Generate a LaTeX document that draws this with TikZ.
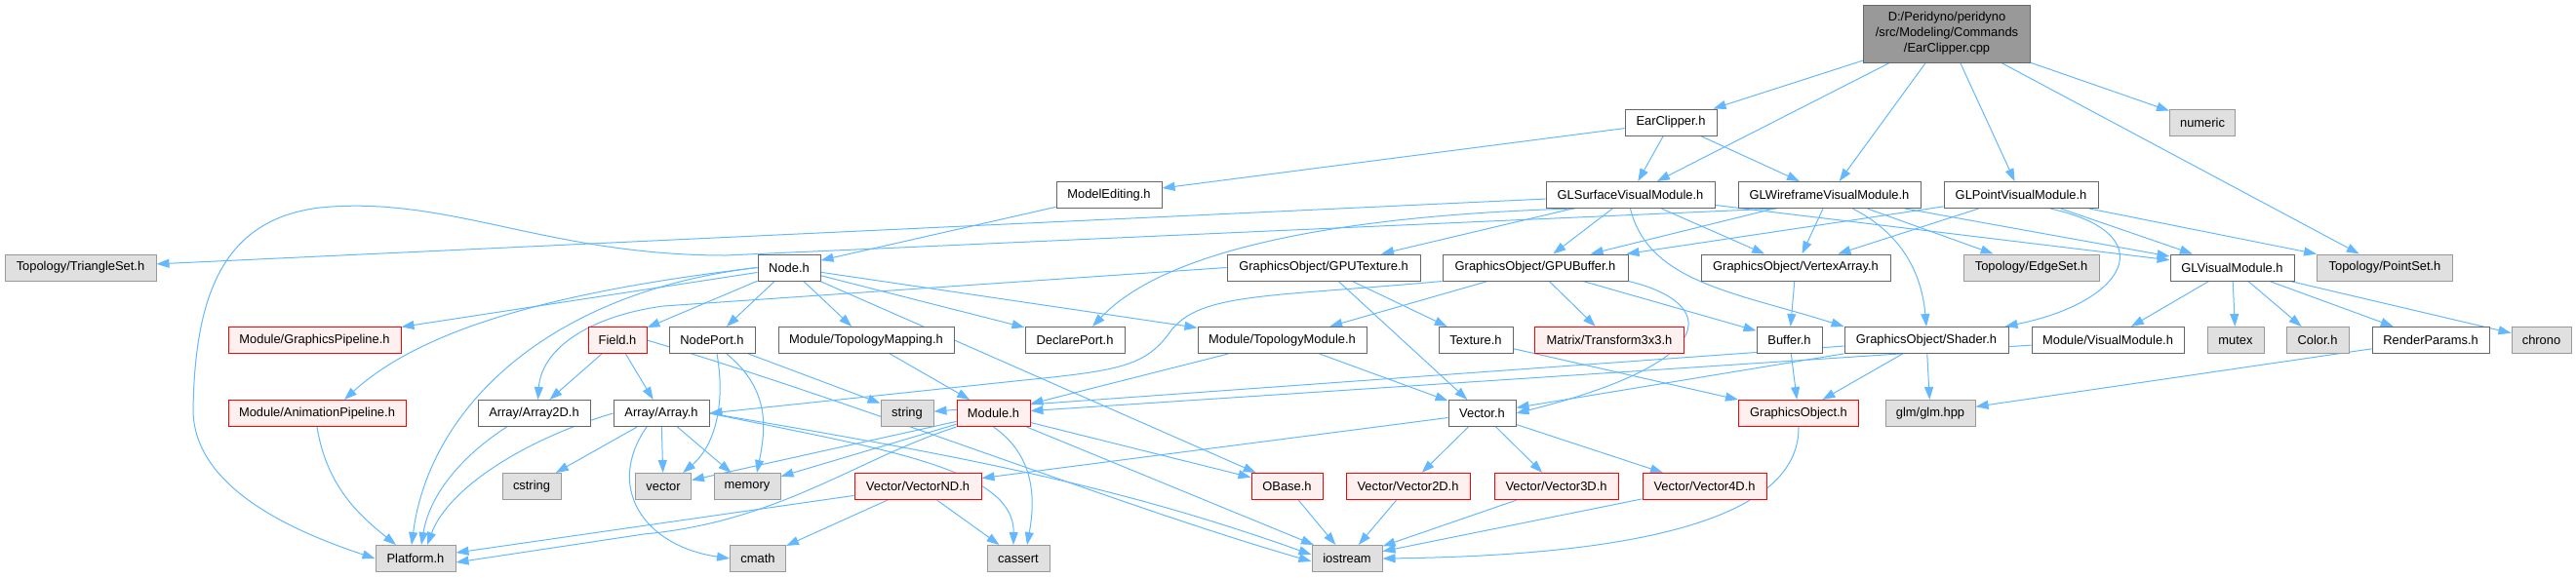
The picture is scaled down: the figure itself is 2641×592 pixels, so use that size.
\documentclass[tikz,border=0pt]{standalone}
\usepackage{fontspec}
\setmainfont{Liberation Sans}
\usepackage{xcolor}
\definecolor{incblue}{HTML}{63B8FF}
\definecolor{hdrline}{HTML}{666666}
\definecolor{sysfill}{HTML}{E0E0E0}
\definecolor{sysline}{HTML}{999999}
\definecolor{partfill}{HTML}{FFF0F0}
\definecolor{srcfill}{HTML}{999999}
\usepackage{tikz}
\usetikzlibrary{arrows.meta,backgrounds}

\begin{document}
\begin{tikzpicture}[x=1pt,y=-1pt,
  hdr/.style={draw=hdrline,fill=white,line width=1pt,minimum height=27pt,inner sep=0pt,
    font=\fontsize{12.9}{16}\selectfont},
  sys/.style={hdr,draw=sysline,fill=sysfill},
  part/.style={hdr,draw=red,fill=partfill},
  src/.style={hdr,fill=srcfill,minimum height=59pt,align=center},
  inc/.style={draw=incblue,line width=1pt,-{Triangle[length=13pt,width=9pt]}}]
\useasboundingbox (0,0) rectangle (2641,592);

\node[src,minimum width=171pt] (earcpp) at (1996,34.5) {D:/Peridyno/peridyno\\/src/Modeling/Commands\\/EarClipper.cpp};

\node[hdr,minimum width=94pt] (earclip) at (1713,125.5) {EarClipper.h};
\node[sys,minimum width=67pt] (numeric) at (2258,125.5) {numeric};

\node[hdr,minimum width=108pt] (modedit) at (1137,200) {ModelEditing.h};
\node[hdr,minimum width=173pt] (glsurf) at (1671.5,200) {GLSurfaceVisualModule.h};
\node[hdr,minimum width=187pt] (glwire) at (1875.5,200) {GLWireframeVisualModule.h};
\node[hdr,minimum width=158pt] (glpoint) at (2072,200) {GLPointVisualModule.h};

\node[sys,minimum width=155pt] (triset) at (82.5,274.5) {Topology/TriangleSet.h};
\node[hdr,minimum width=64pt] (nodeh) at (809,274.5) {Node.h};
\node[hdr,minimum width=198pt] (gputex) at (1357,274.5) {GraphicsObject/GPUTexture.h};
\node[hdr,minimum width=190pt] (gpubuf) at (1574,274.5) {GraphicsObject/GPUBuffer.h};
\node[hdr,minimum width=194pt] (vao) at (1841,274.5) {GraphicsObject/VertexArray.h};
\node[sys,minimum width=139pt] (edgeset) at (2082.5,274.5) {Topology/EdgeSet.h};
\node[hdr,minimum width=127pt] (glvis) at (2288.5,274.5) {GLVisualModule.h};
\node[sys,minimum width=139pt] (ptset) at (2445,274.5) {Topology/PointSet.h};

\node[part,minimum width=177pt] (gpipe) at (322.5,349) {Module/GraphicsPipeline.h};
\node[part,minimum width=60pt] (field) at (633,349) {Field.h};
\node[hdr,minimum width=88pt] (nodeport) at (730,349) {NodePort.h};
\node[hdr,minimum width=180pt] (topomap) at (888,349) {Module/TopologyMapping.h};
\node[hdr,minimum width=102pt] (declport) at (1102,349) {DeclarePort.h};
\node[hdr,minimum width=173pt] (topomod) at (1314.5,349) {Module/TopologyModule.h};
\node[hdr,minimum width=76pt] (texture) at (1513,349) {Texture.h};
\node[part,minimum width=153pt] (trans) at (1650,349) {Matrix/Transform3x3.h};
\node[hdr,minimum width=67pt] (buffer) at (1834.5,349) {Buffer.h};
\node[hdr,minimum width=168pt] (shader) at (1975,349) {GraphicsObject/Shader.h};
\node[hdr,minimum width=156pt] (vismod) at (2161,349) {Module/VisualModule.h};
\node[sys,minimum width=58pt] (mutex) at (2292,349) {mutex};
\node[sys,minimum width=64pt] (colorh) at (2376,349) {Color.h};
\node[hdr,minimum width=120pt] (rparams) at (2492,349) {RenderParams.h};
\node[sys,minimum width=61pt] (chrono) at (2605.5,349) {chrono};

\node[part,minimum width=182pt] (apipe) at (325,424) {Module/AnimationPipeline.h};
\node[hdr,minimum width=115pt] (arr2d) at (547.5,424) {Array/Array2D.h};
\node[hdr,minimum width=98pt] (arr) at (678,424) {Array/Array.h};
\node[sys,minimum width=54pt] (string) at (930,424) {string};
\node[part,minimum width=75pt] (module) at (1018.5,424) {Module.h};
\node[hdr,minimum width=69pt] (vec) at (1519.5,424) {Vector.h};
\node[part,minimum width=123pt] (gobj) at (1844,424) {GraphicsObject.h};
\node[sys,minimum width=92pt] (glm) at (1979,424) {glm/glm.hpp};

\node[sys,minimum width=60pt] (cstring) at (545,499) {cstring};
\node[sys,minimum width=57pt] (vector) at (680,499) {vector};
\node[sys,minimum width=68pt] (memory) at (766,499) {memory};
\node[part,minimum width=130pt] (vecnd) at (941,499) {Vector/VectorND.h};
\node[part,minimum width=73pt] (obase) at (1319.5,499) {OBase.h};
\node[part,minimum width=127pt] (vec2) at (1443.5,499) {Vector/Vector2D.h};
\node[part,minimum width=127pt] (vec3) at (1595.5,499) {Vector/Vector3D.h};
\node[part,minimum width=127pt] (vec4) at (1747.5,499) {Vector/Vector4D.h};

\node[sys,minimum width=82pt] (platform) at (426,573) {Platform.h};
\node[sys,minimum width=57pt] (cmath) at (777,573) {cmath};
\node[sys,minimum width=64pt] (cassert) at (1044,573) {cassert};
\node[sys,minimum width=72pt] (iostream) at (1381,573) {iostream};

\begin{scope}[on background layer]
\foreach \a/\b in {earcpp/earclip,earcpp/glsurf,earcpp/glwire,earcpp/glpoint,earcpp/numeric,earcpp/ptset,
    earclip/modedit,earclip/glsurf,earclip/glwire,modedit/nodeh,
    glsurf/triset,glsurf/glvis,glsurf/vao,glsurf/gpubuf,glsurf/gputex,
    glwire/gpubuf,glwire/vao,glwire/edgeset,glwire/glvis,
    glpoint/gpubuf,glpoint/vao,glpoint/glvis,glpoint/ptset,
    nodeh/gpipe,nodeh/field,nodeh/nodeport,nodeh/topomap,nodeh/declport,nodeh/topomod,nodeh/obase,
    gputex/texture,gputex/vec,gpubuf/topomod,gpubuf/trans,gpubuf/buffer,vao/buffer,
    glvis/vismod,glvis/mutex,glvis/colorh,glvis/rparams,glvis/chrono,
    field/arr2d,field/arr,nodeport/string,topomap/module,topomod/module,topomod/vec,
    texture/gobj,buffer/gobj,shader/vec,shader/gobj,shader/glm,shader/string,
    vismod/module,rparams/glm,
    arr/cstring,arr/vector,arr/memory,module/vector,module/memory,module/obase,module/iostream,
    vec/vecnd,vec/vec2,vec/vec3,vec/vec4,vecnd/platform,vecnd/cmath,vecnd/cassert,
    obase/iostream,vec2/iostream,vec3/iostream,vec4/iostream}
  \draw[inc] (\a) -- (\b);

\draw[inc] ([xshift=40pt]glwire.south west) .. controls (1500,228) and (900,255) .. (744,262)
  .. controls (560,262) and (460,200) .. (328,213) .. controls (230,225) and (200,300) .. (198,420)
  .. controls (198,500) and (300,545) .. (platform.west);
\draw[inc] (nodeh.west) .. controls (560,300) and (440,420) .. ([xshift=-4pt]platform.north);
\draw[inc] (nodeh.west) .. controls (560,300) and (430,340) .. ([xshift=28pt]apipe.north);
\draw[inc] (gputex.west) -- (680,314) .. controls (600,325) and (555,360) .. ([xshift=4pt]arr2d.north);
\draw[inc] (gpubuf.south west) .. controls (1300,305) and (1230,300) .. (1200,340)
  .. controls (1175,375) and (1150,380) .. (1050,390) -- (arr.east);
\draw[inc] (gpubuf.south east) .. controls (1760,310) and (1770,370) .. (vec.east);
\draw[inc] (glsurf.south) .. controls (1690,290) and (1780,300) .. (shader.north west);
\draw[inc] ([xshift=24pt]glwire.south) .. controls (1950,240) and (1970,280) .. (shader.north);
\draw[inc] ([xshift=30pt]glpoint.south) .. controls (2220,240) and (2180,310) .. ([xshift=-4pt]shader.north east);
\draw[inc] ([xshift=30pt]glsurf.south west) .. controls (1400,220) and (1200,250) .. ([xshift=18pt]declport.north);
\draw[inc] (arr.west) .. controls (540,450) and (460,500) .. ([xshift=12pt]platform.north);
\draw[inc] ([xshift=-28pt]arr2d.south) .. controls (470,470) and (440,510) .. ([xshift=6pt]platform.north);
\draw[inc] (apipe.south) .. controls (335,500) and (370,530) .. ([xshift=-20pt]platform.north);
\draw[inc] ([xshift=-15pt]arr.south) .. controls (620,500) and (660,560) .. (cmath.west);
\draw[inc] (arr.east) .. controls (900,460) and (1040,480) .. ([xshift=-5pt]cassert.north);
\draw[inc] (arr.east) .. controls (1000,470) and (1150,500) .. ([yshift=4pt]iostream.west);
\draw[inc] (field.east) .. controls (900,420) and (1150,520) .. ([yshift=-3pt]iostream.west);
\draw[inc] (module.south west) .. controls (880,470) and (800,535) .. (660,548) -- ([yshift=-4pt]platform.east);
\draw[inc] (module.south) .. controls (1065,470) and (1060,520) .. ([xshift=9pt]cassert.north);
\draw[inc] (gobj.south) .. controls (1845,540) and (1650,570) .. (iostream.east);
\draw[inc] ([xshift=5pt]nodeport.south) .. controls (745,420) and (730,460) .. ([xshift=20pt]vector.north);
\draw[inc] ([xshift=15pt]nodeport.south) .. controls (790,400) and (785,440) .. ([xshift=10pt]memory.north);
\end{scope}
\end{tikzpicture}
\end{document}
